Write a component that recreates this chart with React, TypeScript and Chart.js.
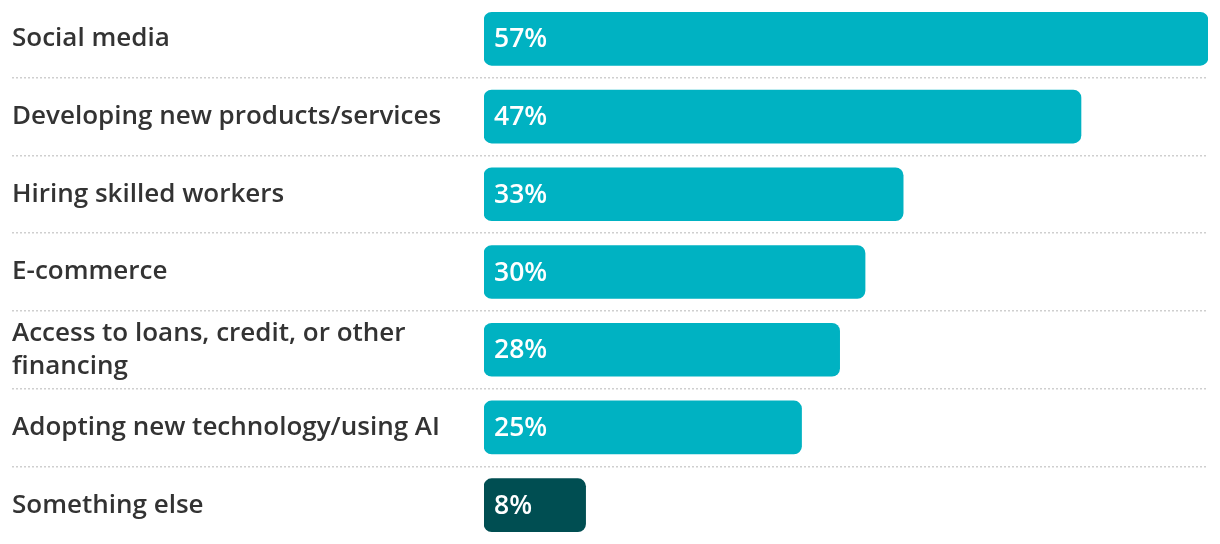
import React, { useEffect, useRef } from "react";
import { Chart, registerables } from "chart.js";

Chart.register(...registerables);

const categories: (string | string[])[] = [
  "Social media",
  "Developing new products/services",
  "Hiring skilled workers",
  "E-commerce",
  ["Access to loans, credit, or other", "financing"],
  "Adopting new technology/using AI",
  "Something else",
];
const values = [57, 47, 33, 30, 28, 25, 8];
const barColors = ["#00B2C2", "#00B2C2", "#00B2C2", "#00B2C2", "#00B2C2", "#00B2C2", "#004E52"];

const FONT = "'Open Sans', Lato, sans-serif";

const valueLabels = {
  id: "valueLabels",
  afterDatasetsDraw(chart: any) {
    const ctx = chart.ctx;
    const meta = chart.getDatasetMeta(0);
    ctx.save();
    ctx.fillStyle = "#ffffff";
    ctx.font = `600 26.5px ${FONT}`;
    ctx.textAlign = "left";
    ctx.textBaseline = "middle";
    meta.data.forEach((el: any, i: number) => {
      ctx.fillText(`${values[i]}%`, el.base + 10, el.y + 1);
    });
    ctx.restore();
  },
};

export default function App() {
  const ref = useRef<HTMLCanvasElement>(null);
  useEffect(() => {
    if (!ref.current) return;
    const chart = new Chart(ref.current, {
      type: "bar",
      data: {
        labels: categories,
        datasets: [
          {
            data: values,
            backgroundColor: barColors,
            borderRadius: 8,
            borderSkipped: false,
            barThickness: 53,
          },
        ],
      },
      options: {
        indexAxis: "y",
        animation: false,
        responsive: true,
        maintainAspectRatio: false,
        layout: { padding: { left: 12, right: 12, top: 0, bottom: 0 } },
        plugins: { legend: { display: false }, tooltip: { enabled: false } },
        scales: {
          x: { display: false, min: 0, max: 57 },
          y: {
            afterFit: (scale: any) => {
              scale.width = 472;
              scale.paddingTop = 0;
              scale.paddingBottom = 0;
            },
            grid: {
              offset: true,
              drawOnChartArea: true,
              drawTicks: true,
              tickLength: 472,
              color: (c: any) =>
                c.index === undefined || c.index === 0 ? "rgba(0,0,0,0)" : "#cfcfcf",
              lineWidth: 1.5,
              tickColor: (c: any) =>
                c.index === undefined || c.index === 0 ? "rgba(0,0,0,0)" : "#cfcfcf",
              tickBorderDash: [2, 2],
              tickWidth: 1.5,
            },
            border: { display: false, dash: [2, 2] },
            ticks: {
              crossAlign: "far",
              padding: 0,
              color: "#333333",
              font: { family: FONT, size: 26, weight: "600", lineHeight: 1.27 },
            },
          },
        },
      },
      plugins: [valueLabels],
    });
    return () => chart.destroy();
  }, []);
  return (
    <div style={{ position: "absolute", left: 0, top: 0, width: 1220, height: 544 }}>
      <canvas ref={ref} />
    </div>
  );
}
